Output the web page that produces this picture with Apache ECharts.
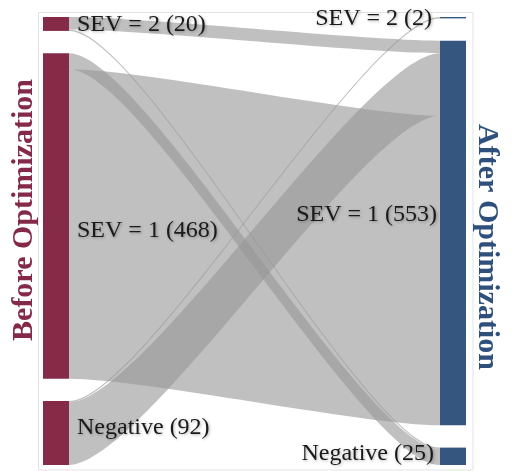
<!DOCTYPE html>
<html><head><meta charset="utf-8">
<script src="https://cdn.jsdelivr.net/npm/echarts@6/dist/echarts.min.js"></script>
<style>html,body{margin:0;padding:0;background:#fff}#c{width:512px;height:471px}</style>
</head><body><div id="c"></div>
<script>
// ---- data ----
const columnTitles = ['Before Optimization', 'After Optimization'];
const leftNames = ['SEV = 2', 'SEV = 1', 'Negative'];
const leftValues = [20, 468, 92];
const rightNames = ['SEV = 2', 'SEV = 1', 'Negative'];
const rightValues = [2, 553, 25];
const linkSource = ['SEV = 2', 'SEV = 2', 'SEV = 1', 'SEV = 1', 'Negative', 'Negative'];
const linkTarget = ['SEV = 1', 'Negative', 'Negative', 'SEV = 1', 'SEV = 2', 'SEV = 1'];
const linkValues = [18, 2, 23, 445, 2, 90];
const linkTargetRank = [0, 0, 1, 2, 0, 1];

// ---- layout / style ----
const GAP = 32;          // gap between nodes, in value units
const NODE_W = 26;       // node width px
const CURVE = 0.2;       // control point distance (fraction of horizontal span)
const leftColor = '#852B48';
const rightColor = '#35577F';
const linkColor = 'rgba(150,150,150,0.6)';
const FONT = '"Liberation Serif", "Times New Roman", serif';
const leftLabelOffset = [[8, 1], [8, 15], [8, -5]];
const rightLabelOffset = [[-8, 1.5], [-3, -18], [-6, -2.5]];

const sum = a => a.reduce((s, v) => s + v, 0);
const total = Math.max(sum(leftValues), sum(rightValues)) + 2 * GAP;
function tops(vals) { let y = 0; return vals.map(v => { const t = y; y += v + GAP; return t; }); }
const leftTop = tops(leftValues), rightTop = tops(rightValues);

const srcOff = leftNames.map(() => 0);
const linkY0 = linkValues.map((v, i) => {
  const s = leftNames.indexOf(linkSource[i]);
  const y = leftTop[s] + srcOff[s]; srcOff[s] += v; return y;
});
const linkY1 = new Array(linkValues.length);
rightNames.forEach((nm, t) => {
  const idx = linkValues.map((_, i) => i).filter(i => linkTarget[i] === nm)
    .sort((a, b) => linkTargetRank[a] - linkTargetRank[b]);
  let off = 0;
  idx.forEach(i => { linkY1[i] = rightTop[t] + off; off += linkValues[i]; });
});

const linkData = linkValues.map((v, i) => [0, linkY0[i], 1, linkY1[i], v]);
const nodeData = leftNames.map((n, i) => ({ name: n, value: [0, leftTop[i], leftValues[i], 0, i] }))
  .concat(rightNames.map((n, i) => ({ name: n, value: [1, rightTop[i], rightValues[i], 1, i] })));

const chart = echarts.init(document.getElementById('c'));
const labelStyle = {
  fontFamily: FONT, fontSize: 24, fill: '#1a1a1a',
  textShadowColor: 'rgba(0,0,0,0.3)', textShadowBlur: 3, textShadowOffsetX: 1, textShadowOffsetY: 1
};

chart.setOption({
  animation: false,
  backgroundColor: '#fff',
  grid: [
    { left: 38.5, right: 39, top: 12.5, bottom: 1, show: true, borderColor: '#e3e3e3', borderWidth: 1, backgroundColor: 'transparent' },
    { left: 43, right: 46, top: 17, bottom: 6 }
  ],
  xAxis: [
    { gridIndex: 0, type: 'value', show: false },
    { gridIndex: 1, type: 'value', min: 0, max: 1, show: false }
  ],
  yAxis: [
    { gridIndex: 0, type: 'value', show: false },
    { gridIndex: 1, type: 'value', min: 0, max: total, inverse: true, show: false }
  ],
  graphic: [
    { type: 'text', x: 24, y: 210, rotation: Math.PI / 2,
      style: { text: columnTitles[0], fontFamily: FONT, fontSize: 30, fontWeight: 'bold', fill: '#842A48', align: 'center', verticalAlign: 'middle' } },
    { type: 'text', x: 487, y: 247, rotation: -Math.PI / 2,
      style: { text: columnTitles[1], fontFamily: FONT, fontSize: 30, fontWeight: 'bold', fill: '#2F507C', align: 'center', verticalAlign: 'middle' } }
  ],
  series: [
    {
      type: 'custom', xAxisIndex: 1, yAxisIndex: 1, data: linkData,
      encode: { x: [0, 2], y: [1, 3] },
      renderItem(params, api) {
        const v = api.value(4);
        const a0 = api.coord([api.value(0), api.value(1)]);
        const a1 = api.coord([api.value(0), api.value(1) + v]);
        const b0 = api.coord([api.value(2), api.value(3)]);
        const b1 = api.coord([api.value(2), api.value(3) + v]);
        const x0 = a0[0] + NODE_W, x1 = b0[0] - NODE_W;
        const c0 = x0 + (x1 - x0) * CURVE, c1 = x1 - (x1 - x0) * CURVE;
        const d = `M${x0},${a0[1]} C${c0},${a0[1]} ${c1},${b0[1]} ${x1},${b0[1]} L${x1},${b1[1]} C${c1},${b1[1]} ${c0},${a1[1]} ${x0},${a1[1]} Z`;
        return { type: 'path', shape: { pathData: d }, style: { fill: linkColor } };
      }
    },
    {
      type: 'custom', xAxisIndex: 1, yAxisIndex: 1, data: nodeData,
      encode: { x: 0, y: 1 },
      renderItem(params, api) {
        const side = api.value(3), k = api.value(4), v = api.value(2);
        const p0 = api.coord([api.value(0), api.value(1)]);
        const p1 = api.coord([api.value(0), api.value(1) + v]);
        const x = side === 0 ? p0[0] : p0[0] - NODE_W;
        const name = nodeData[params.dataIndex].name;
        const off = side === 0 ? leftLabelOffset[k] : rightLabelOffset[k];
        const cy = (p0[1] + p1[1]) / 2;
        return {
          type: 'group',
          children: [
            { type: 'rect', shape: { x: x, y: p0[1], width: NODE_W, height: p1[1] - p0[1] },
              style: { fill: side === 0 ? leftColor : rightColor } },
            { type: 'text', x: (side === 0 ? x + NODE_W : x) + off[0], y: cy + off[1],
              style: Object.assign({ text: name + ' (' + v + ')', align: side === 0 ? 'left' : 'right', verticalAlign: 'middle' }, labelStyle) }
          ]
        };
      }
    }
  ]
});
</script></body></html>
